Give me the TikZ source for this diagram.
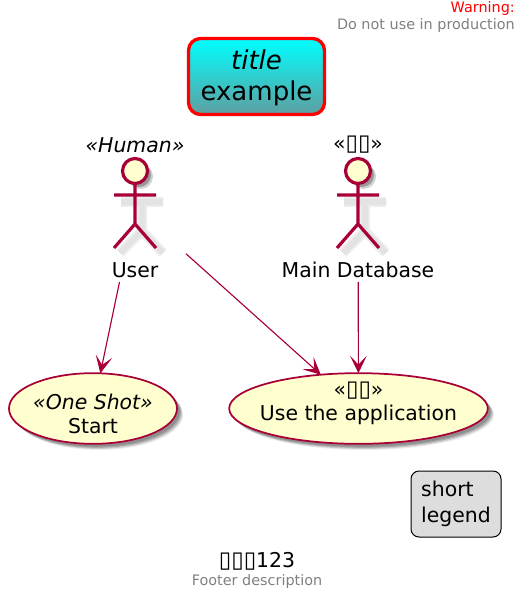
\documentclass[tikz,border=0pt]{standalone}
\usepackage{fontspec}
\setmainfont{DejaVu Sans}
\usetikzlibrary{arrows.meta,shapes.geometric,shadows}
\definecolor{umlline}{HTML}{A80036}
\definecolor{umlfill}{HTML}{FEFECE}
\definecolor{legendfill}{HTML}{DDDDDD}
\definecolor{titleend}{HTML}{5F9EA0}
\newcommand{\tofu}{{\fontsize{17pt}{17pt}\selectfont ▯}}
\tikzset{
	softshadow/.style={general shadow={fill=black,opacity=.16,shadow xshift=2.2pt,shadow yshift=-2.2pt},
		general shadow={fill=black,opacity=.16,shadow xshift=3pt,shadow yshift=-3pt},
		general shadow={fill=black,opacity=.14,shadow xshift=3.8pt,shadow yshift=-3.8pt},
		general shadow={fill=black,opacity=.08,shadow xshift=4.6pt,shadow yshift=-4.6pt}},
	ucase/.style={ellipse,draw=umlline,line width=1.3pt,fill=umlfill,inner sep=0pt,outer sep=0pt,softshadow},
	actorbox/.style={minimum width=76.5pt,minimum height=111pt,inner sep=0pt,outer sep=0pt},
	txt/.style={inner sep=0pt,font=\fontsize{15.3pt}{18pt}\selectfont},
	small/.style={inner sep=0pt,font=\fontsize{10.8pt}{13pt}\selectfont},
	link/.style={->,draw=umlline,line width=.85pt}
}
\begin{document}
\begin{tikzpicture}[x=.75pt,y=-.75pt,line join=round,>={Stealth[length=13pt,width=12.5pt,inset=6.5pt]}]
	\useasboundingbox (0,0) rectangle (531,605);
	\node[small,text=red,anchor=east] (warn) at (515,9) {Warning:};
	\node[small,text=gray,anchor=east] (nouse) at (515,26) {Do not use in production};
	\node[draw=red,line width=2.5pt,rounded corners=9pt,top color=cyan,bottom color=titleend,minimum width=102pt,minimum height=57pt,inner sep=0pt] (titlebox) at (256.5,76.5) {};
	\node[inner sep=0pt,font=\fontsize{19.5pt}{24pt}\selectfont] (titletxt) at (256.5,60) {\textit{title}};
	\node[inner sep=0pt,font=\fontsize{19.5pt}{24pt}\selectfont] (exampletxt) at (256.5,93) {example};
	% actors
	\foreach \x in {135,358}{
		\draw[black!7,line width=7.5pt] (\x-14,202)--(\x+28,202) (\x+7,202)--(\x+7,231)--(\x-15,253) (\x+7,231)--(\x+28,253);
		\draw[black!11,line width=4.5pt] (\x-14,202)--(\x+28,202) (\x+7,202)--(\x+7,231)--(\x-15,253) (\x+7,231)--(\x+28,253);
		\fill[black!18] (\x+5.5,176.5) circle (12.5);
		\fill[black!40] (\x+4,175) circle (12);
		\draw[umlline,line width=2.4pt,fill=umlfill] (\x,171) circle (12.5);
		\draw[umlline,line width=2.4pt] (\x,183.5)--(\x,224) (\x-21,195)--(\x+21,195) (\x-21,248)--(\x,224)--(\x+21,248);
	}
	\node[actorbox] (user) at (135,208) {};
	\node[actorbox] (maindb) at (358,208) {};
	\node[txt] (userst) at (135,145) {\textit{«Human»}};
	\node[txt] (dbst) at (358,145) {«\tofu\tofu»};
	\node[txt] (username) at (135,270) {User};
	\node[txt] (dbname) at (358,270) {Main Database};
	% use cases
	\node[ucase,minimum width=126pt,minimum height=53pt] (start) at (93,408.5) {};
	\node[ucase,minimum width=194pt,minimum height=53pt] (useapp) at (358.5,408.5) {};
	\node[txt] (startst) at (93,402) {\textit{«One Shot»}};
	\node[txt] (starttxt) at (93,426) {Start};
	\node[txt] (useappst) at (358.5,391) {«\tofu\tofu»};
	\node[txt] (useapptxt) at (358.5,415) {Use the application};
	\draw[link] (user)--(start);
	\draw[link] (user)--(useapp);
	\draw[link] (maindb)--(useapp);
	% legend and footer
	\node[draw=black,line width=.75pt,fill=legendfill,rounded corners=6pt,minimum width=67.5pt,minimum height=49.5pt,inner sep=0pt,align=left,font=\fontsize{15.3pt}{19pt}\selectfont] (legendbox) at (456,504) {short\\legend};
	\node[txt] (foot) at (257,561) {\tofu\tofu\tofu 123};
	\node[small,text=gray] (footdesc) at (257,582) {Footer description};
\end{tikzpicture}
\end{document}
